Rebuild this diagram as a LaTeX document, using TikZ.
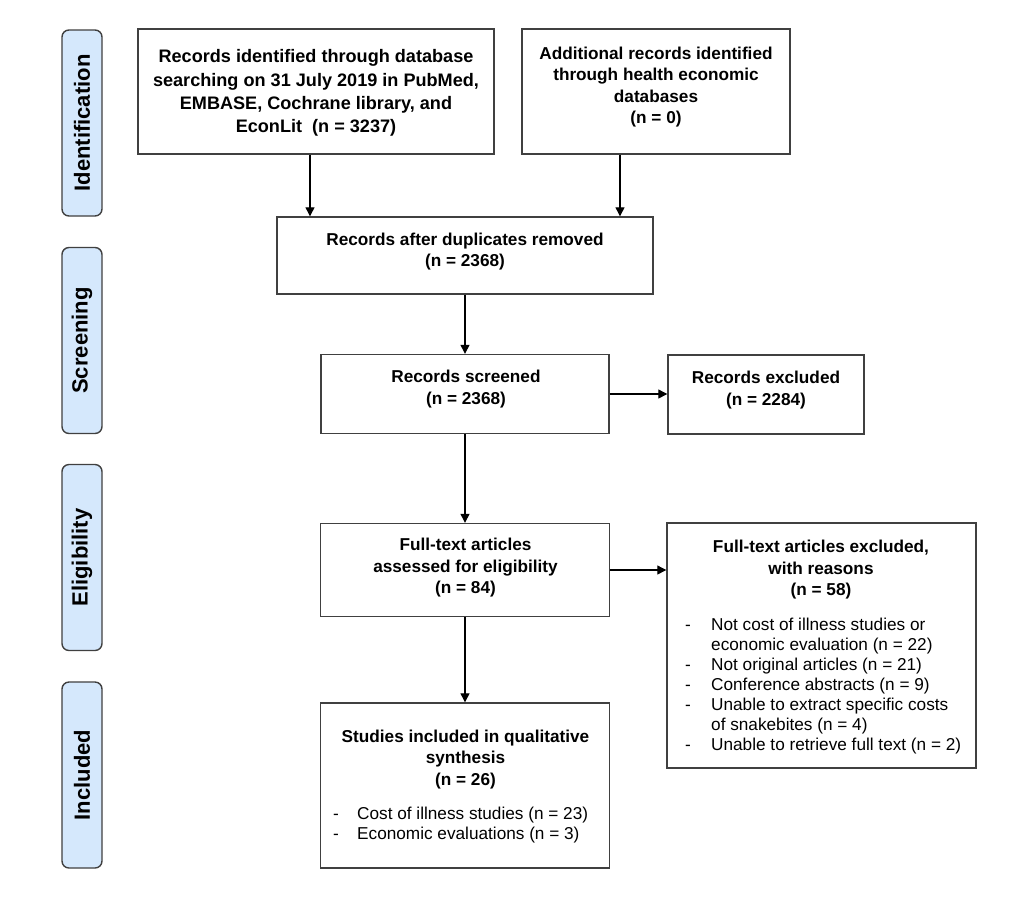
\documentclass[tikz,border=0pt]{standalone}
\usepackage{fontspec}
\setmainfont{Liberation Sans}
\usetikzlibrary{arrows.meta}
\definecolor{lblue}{HTML}{D5E8FC}
\definecolor{edgec}{HTML}{404040}
\begin{document}
\begin{tikzpicture}[x=1pt,y=-1pt,
  box/.style={draw=edgec, line width=1.4pt, inner sep=0pt},
  lab/.style={draw=edgec, line width=1.4pt, fill=lblue, rounded corners=7pt,
    minimum width=186pt, minimum height=40pt, inner sep=0pt, rotate=90,
    font=\fontsize{22}{26}\selectfont\bfseries},
  btxt/.style={font=\fontsize{17.2}{21.5}\selectfont\bfseries, align=center, inner sep=0pt},
  ltxt/.style={font=\fontsize{17.2}{20}\selectfont, align=left, inner sep=0pt},
  arr/.style={draw=black, line width=1.2pt, -{Triangle[length=9pt,width=9pt]}}]
\useasboundingbox (0,0) rectangle (1024,903);
\fill[white] (0,0) rectangle (1024,903);

% side labels
\node[lab] (l1) at (82,123) {Identification};
\node[lab] (l2) at (82,340.5) {Screening};
\node[lab] (l3) at (82,557.5) {Eligibility};
\node[lab] (l4) at (82,775) {Included};

% boxes
\node[box, minimum width=356pt, minimum height=125pt] (b1) at (316,91.5) {};
\node[box, minimum width=268pt, minimum height=125pt] (b2) at (656,91.5) {};
\node[box, minimum width=376pt, minimum height=77pt] (b3) at (465,255.5) {};
\node[box, minimum width=288pt, minimum height=79pt] (b4) at (465,394) {};
\node[box, minimum width=196pt, minimum height=79pt] (b5) at (766,394.5) {};
\node[box, minimum width=289pt, minimum height=93pt] (b6) at (465,570) {};
\node[box, minimum width=309pt, minimum height=245pt] (b7) at (821.5,645.5) {};
\node[box, minimum width=289pt, minimum height=165pt] (b8) at (465,785.5) {};

% texts
\node[btxt, font=\fontsize{18.1}{23.3}\selectfont\bfseries] (t1) at (316,93)
  {Records identified through database\\searching on 31 July 2019 in PubMed,\\EMBASE, Cochrane library, and\\EconLit\ \ (n = 3237)};
\node[btxt] (t2) at (656,87) {Additional records identified\\through health economic\\databases\\(n = 0)};
\node[btxt] (t3) at (465,251.5) {Records after duplicates removed\\(n = 2368)};
\node[btxt] (t4) at (466,389) {Records screened\\(n = 2368)};
\node[btxt] (t5) at (766,390) {Records excluded\\(n = 2284)};
\node[btxt] (t6) at (465.5,568) {Full-text articles\\assessed for eligibility\\(n = 84)};
\node[btxt] (t7) at (821,570) {Full-text articles excluded,\\with reasons\\(n = 58)};
\node[ltxt, anchor=west] (s7) at (685,686.5)
  {\makebox[26pt][l]{-}Not cost of illness studies or\\
   \makebox[26pt][l]{}economic evaluation (n = 22)\\
   \makebox[26pt][l]{-}Not original articles (n = 21)\\
   \makebox[26pt][l]{-}Conference abstracts (n = 9)\\
   \makebox[26pt][l]{-}Unable to extract specific costs\\
   \makebox[26pt][l]{}of snakebites (n = 4)\\
   \makebox[26pt][l]{-}Unable to retrieve full text (n = 2)};
\node[btxt] (t8) at (465.5,759.5) {Studies included in qualitative\\synthesis\\(n = 26)};
\node[ltxt, anchor=west] (s8) at (333,825)
  {\makebox[24pt][l]{-}Cost of illness studies (n = 23)\\
   \makebox[24pt][l]{-}Economic evaluations (n = 3)};

% connectors
\coordinate (xa) at (310,0);
\coordinate (xb) at (620,0);
\draw[arr] (b1.south -| xa) -- (b3.north -| xa);
\draw[arr] (b2.south -| xb) -- (b3.north -| xb);
\draw[arr] (b3.south) -- (b3.south |- b4.north);
\draw[arr] (b4.east) -- (b4.east -| b5.west);
\draw[arr] (b4.south) -- (b4.south |- b6.north);
\draw[arr] (b6.east) -- (b6.east -| b7.west);
\draw[arr] (b6.south) -- (b8.north);
\end{tikzpicture}
\end{document}
